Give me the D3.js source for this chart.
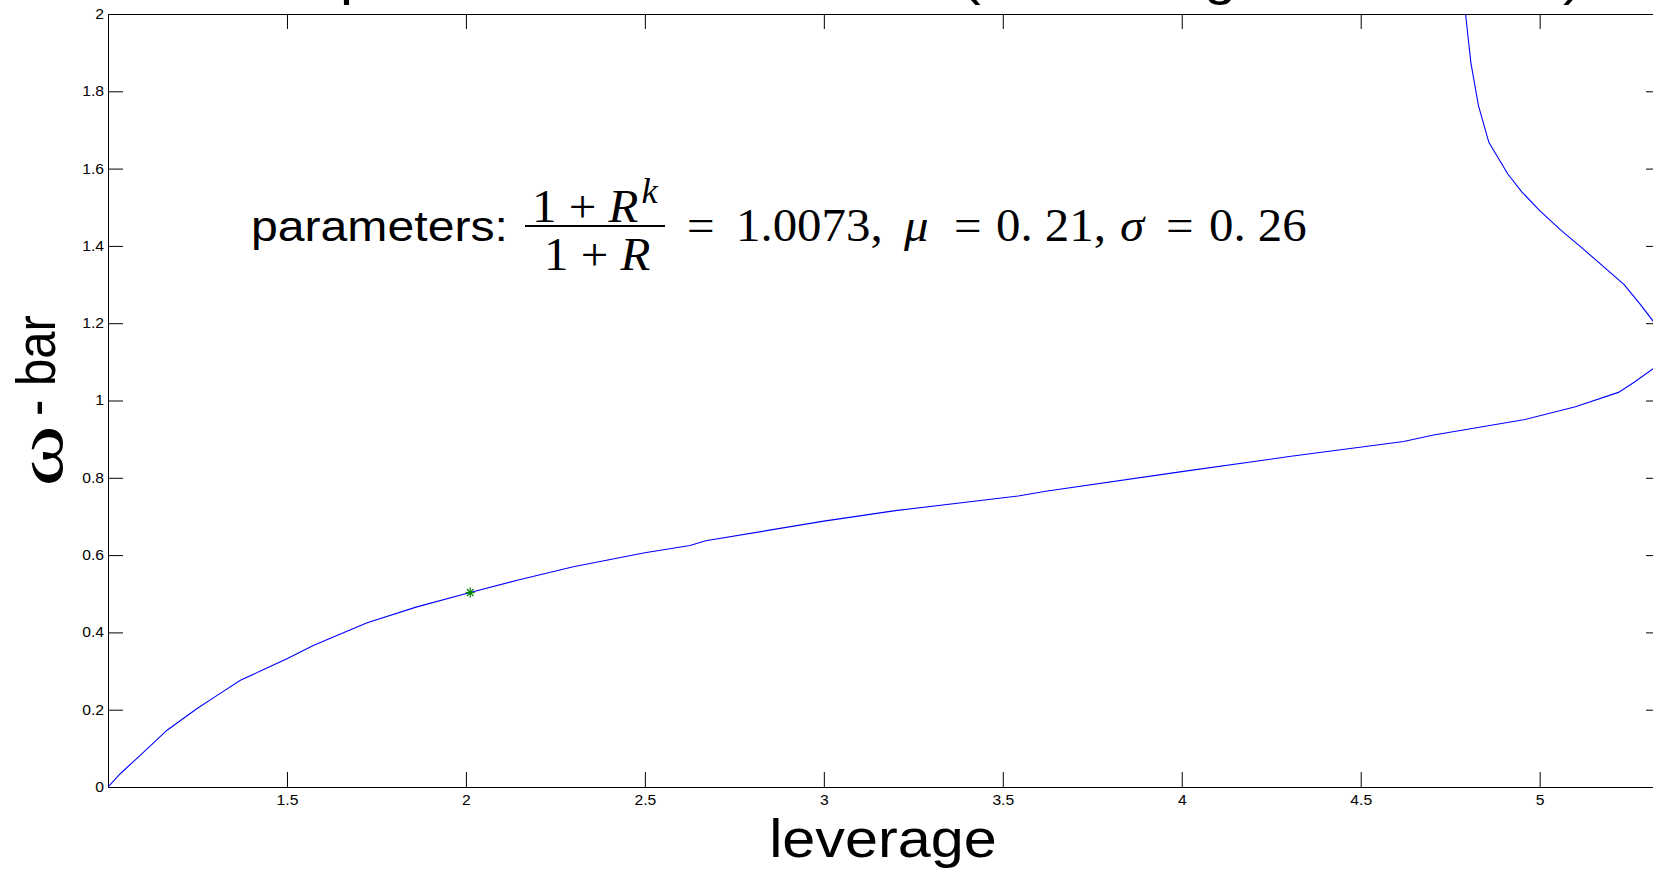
<!DOCTYPE html>
<html>
<head>
<meta charset="utf-8">
<script src="https://cdn.jsdelivr.net/npm/d3@7"></script>
<style>
  body { margin: 0; background: #fff; }
  svg { display: block; }
  .tick text { font-family: "Liberation Sans", Arial, sans-serif; font-size: 14px; fill: #000; }
</style>
</head>
<body>
<script>
// curve: leverage vs omega-bar (the curve bends back near the right edge)
const leverage = [1.000, 1.035, 1.090, 1.165, 1.249, 1.305, 1.370, 1.435, 1.500, 1.575,
  1.724, 1.863, 2.012, 2.152, 2.300, 2.500, 2.626, 2.670, 3.000, 3.200,
  3.543, 3.620, 4.000, 4.300, 4.620, 4.700, 4.955, 5.100, 5.220, 5.262,
  5.317, 5.333, 5.339, 5.330, 5.318, 5.280, 5.236, 5.180, 5.118, 5.060,
  5.000, 4.950, 4.911, 4.858, 4.829, 4.808, 4.800, 4.793];
const omegaBar = [0.000, 0.035, 0.082, 0.147, 0.203, 0.237, 0.276, 0.304, 0.332, 0.367,
  0.425, 0.466, 0.503, 0.537, 0.570, 0.606, 0.625, 0.637, 0.688, 0.715,
  0.753, 0.765, 0.816, 0.855, 0.894, 0.910, 0.950, 0.984, 1.021, 1.046,
  1.082, 1.110, 1.140, 1.180, 1.204, 1.250, 1.300, 1.345, 1.395, 1.440,
  1.491, 1.540, 1.586, 1.668, 1.763, 1.873, 1.940, 2.000];

// the green star
const markLeverage = [2.012];
const markOmega = [0.503];

const xTicks = [1.5, 2, 2.5, 3, 3.5, 4, 4.5, 5];
const xTickLabels = ["1.5", "2", "2.5", "3", "3.5", "4", "4.5", "5"];
const yTicks = [0, 0.2, 0.4, 0.6, 0.8, 1, 1.2, 1.4, 1.6, 1.8, 2];
const yTickLabels = ["0", "0.2", "0.4", "0.6", "0.8", "1", "1.2", "1.4", "1.6", "1.8", "2"];

const W = 1653, H = 872;
const pLeft = 108, pRight = 1661, pTop = 14, pBottom = 787;
const S = 1.12;   // the picture is a bit wider than tall, text too
const sans = '"Liberation Sans", Arial, sans-serif';
const serif = '"Liberation Serif", "Times New Roman", serif';

let svg = d3.select("body").append("svg").attr("width", W).attr("height", H);

let x = d3.scaleLinear().domain([1, d3.max(leverage)]).range([pLeft, pRight]);
let y = d3.scaleLinear().domain([0, 2]).range([pBottom, pTop]);

// title, mostly above the top of the picture
svg.append("text")
  .attr("transform", `translate(204,-6) scale(${S},1)`)
  .attr("font-family", sans).attr("font-size", 52)
  .text("Zero profit condition for bank (at leverage rate of firm)");

// axes, ticks pointing inwards on all four sides
let gx = svg.append("g").attr("transform", `translate(0,${pBottom})`)
  .call(d3.axisBottom(x).tickValues(xTicks).tickSizeInner(-15).tickSizeOuter(0).tickPadding(8)
    .tickFormat((d, i) => xTickLabels[i]));
gx.selectAll("text").attr("transform", `scale(${S},1)`);

let gy = svg.append("g").attr("transform", `translate(${pLeft},0)`)
  .call(d3.axisLeft(y).tickValues(yTicks).tickSizeInner(-15).tickSizeOuter(0).tickPadding(3.5)
    .tickFormat((d, i) => yTickLabels[i]));
gy.selectAll("text").attr("transform", `scale(${S},1)`);

svg.append("g").attr("transform", `translate(0,${pTop})`)
  .call(d3.axisTop(x).tickValues(xTicks).tickSizeInner(-15).tickSizeOuter(0).tickFormat(""));
svg.append("g").attr("transform", `translate(${pRight},0)`)
  .call(d3.axisRight(y).tickValues(yTicks).tickSizeInner(-15).tickSizeOuter(0).tickFormat(""));

svg.selectAll(".domain, .tick line").attr("stroke", "#000");

// curve
svg.append("clipPath").attr("id", "plot")
  .append("rect").attr("x", pLeft).attr("y", pTop).attr("width", pRight - pLeft).attr("height", pBottom - pTop);

let pts = leverage.map((d, i) => [d, omegaBar[i]]);
let line = d3.line().x(d => x(d[0])).y(d => y(d[1]));
svg.append("path").datum(pts)
  .attr("clip-path", "url(#plot)")
  .attr("d", line)
  .attr("fill", "none").attr("stroke", "#0000ff").attr("stroke-width", 1.1);

// green asterisk marker
let star = svg.append("g").selectAll("g").data(markLeverage).enter().append("g")
  .attr("transform", (d, i) => `translate(${x(d)},${y(markOmega[i])})`);
star.append("path")
  .attr("d", "M-4.5,0H4.5M0,-5V5M-3.3,-3.6L3.3,3.6M-3.3,3.6L3.3,-3.6")
  .attr("stroke", "#008000").attr("stroke-width", 1.2).attr("fill", "none");

// axis labels
svg.append("text")
  .attr("transform", `translate(883,857) scale(${S},1)`)
  .attr("text-anchor", "middle").attr("font-family", sans).attr("font-size", 53)
  .text("leverage");

svg.append("text")
  .attr("transform", `translate(62,456) scale(${S},1) rotate(-90) scale(1.6,1)`)
  .attr("text-anchor", "middle").attr("font-family", serif).attr("font-size", 58)
  .text("ω");
svg.append("text")
  .attr("transform", `translate(55,416) scale(${S},1) rotate(-90)`)
  .attr("font-family", sans).attr("font-size", 49)
  .text("- bar");

// parameter note
const SN = 1.04;
let note = svg.append("g").attr("font-family", serif).attr("font-size", 47);
svg.append("text")
  .attr("transform", `translate(251,241) scale(${S},1)`)
  .attr("font-family", sans).attr("font-size", 43)
  .text("parameters:");

let num = note.append("text").attr("transform", `translate(532,222) scale(${SN},1)`);
num.append("tspan").text("1 + ");
num.append("tspan").attr("font-style", "italic").text("R");
num.append("tspan").attr("font-style", "italic").attr("font-size", 35).attr("dx", 3).attr("dy", -19).text("k");

let den = note.append("text").attr("transform", `translate(544,270) scale(${SN},1)`);
den.append("tspan").text("1 + ");
den.append("tspan").attr("font-style", "italic").text("R");

note.append("line").attr("x1", 525).attr("x2", 665).attr("y1", 226).attr("y2", 226)
  .attr("stroke", "#000").attr("stroke-width", 1.8);

const pieces = [
  [687, "=", false], [736, "1.0073,", false], [904, "μ", true], [954, "=", false],
  [996, "0. 21,", false], [1120, "σ", true], [1166, "=", false], [1209, "0. 26", false]
];
pieces.forEach(p => {
  note.append("text")
    .attr("transform", `translate(${p[0]},241) scale(${SN},1)`)
    .attr("font-style", p[2] ? "italic" : "normal")
    .text(p[1]);
});
</script>
</body>
</html>
